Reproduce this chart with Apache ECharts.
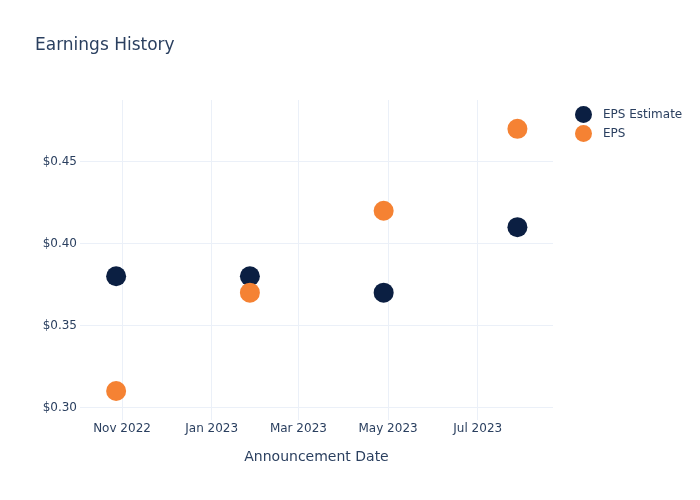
<!DOCTYPE html>
<html>
<head>
<meta charset="utf-8">
<script src="https://cdn.jsdelivr.net/npm/echarts@6/dist/echarts.min.js"></script>
<style>html,body{margin:0;padding:0;background:#fff}#c{width:700px;height:500px}</style>
</head>
<body>
<div id="c"></div>
<script>
const dates = ['2022-10-28', '2023-01-27', '2023-04-28', '2023-07-28'];
const epsEstimate = [0.38, 0.38, 0.37, 0.41];
const eps = [0.31, 0.37, 0.42, 0.47];
const xTicks = ['2022-11-01', '2023-01-01', '2023-03-01', '2023-05-01', '2023-07-01'];
const yTicks = [0.30, 0.35, 0.40, 0.45];
const months = ['Jan','Feb','Mar','Apr','May','Jun','Jul','Aug','Sep','Oct','Nov','Dec'];

const ts = s => new Date(s + 'T00:00:00Z').getTime();
const textColor = '#2a3f5f';
const gridColor = '#ebf0f8';
const font = '"DejaVu Sans", sans-serif';

const chart = echarts.init(document.getElementById('c'), null, {renderer: 'canvas'});
chart.setOption({
  animation: false,
  backgroundColor: '#ffffff',
  textStyle: {fontFamily: font},
  title: {
    text: 'Earnings History',
    left: 30, top: 32,
    textStyle: {fontFamily: font, fontSize: 17, fontWeight: 'normal', color: textColor}
  },
  legend: {
    orient: 'vertical',
    left: 570, top: 101,
    icon: 'circle',
    itemWidth: 17, itemHeight: 17, itemGap: 2,
    textStyle: {fontFamily: font, fontSize: 12, color: textColor, padding: [0, 0, 0, 6]},
    data: ['EPS Estimate', 'EPS']
  },
  grid: {left: 80, right: 147, top: 100, bottom: 80, containLabel: false},
  xAxis: {
    type: 'value',
    min: ts('2022-10-03') + 10 * 3600e3,
    max: ts('2023-08-21') + 5 * 3600e3,
    name: 'Announcement Date',
    nameLocation: 'middle',
    nameGap: 30,
    nameTextStyle: {fontFamily: font, fontSize: 14, color: textColor},
    axisLine: {show: false},
    axisTick: {show: false, customValues: xTicks.map(ts)},
    axisLabel: {
      customValues: xTicks.map(ts),
      fontFamily: font, fontSize: 12, color: textColor, margin: 3,
      formatter: v => { const d = new Date(v); return months[d.getUTCMonth()] + ' ' + d.getUTCFullYear(); }
    },
    splitLine: {show: true, lineStyle: {color: gridColor, width: 1}}
  },
  yAxis: {
    type: 'value',
    min: 0.2923, max: 0.4876,
    axisLine: {show: false},
    axisTick: {show: false, customValues: yTicks},
    axisLabel: {
      customValues: yTicks,
      fontFamily: font, fontSize: 12, color: textColor, margin: 3,
      formatter: v => '$' + v.toFixed(2)
    },
    splitLine: {show: true, lineStyle: {color: gridColor, width: 1}}
  },
  series: [
    {
      name: 'EPS Estimate', type: 'scatter', symbol: 'circle', symbolSize: 20,
      itemStyle: {color: '#0b1f42', opacity: 1},
      data: dates.map((d, i) => [ts(d), epsEstimate[i]])
    },
    {
      name: 'EPS', type: 'scatter', symbol: 'circle', symbolSize: 20,
      itemStyle: {color: '#f58233', opacity: 1},
      data: dates.map((d, i) => [ts(d), eps[i]])
    }
  ]
});
</script>
</body>
</html>
